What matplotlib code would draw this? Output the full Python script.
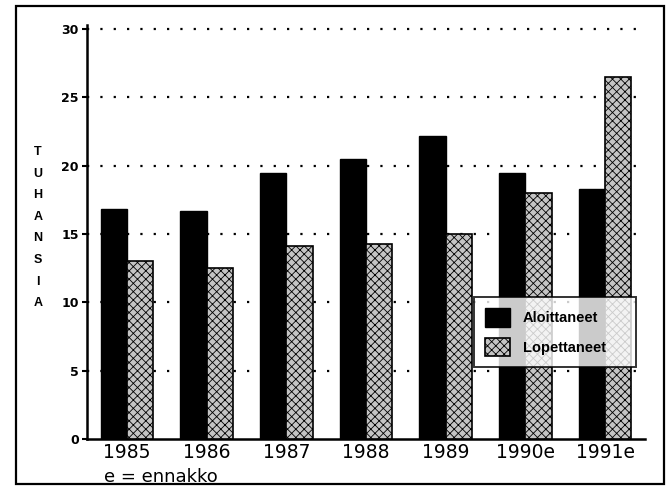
import matplotlib
matplotlib.use("Agg")
import matplotlib.pyplot as plt
from matplotlib.patches import Rectangle
import numpy as np

years = ["1985", "1986", "1987", "1988", "1989", "1990e", "1991e"]
aloittaneet = [16.8, 16.7, 19.5, 20.5, 22.2, 19.5, 18.3]
lopettaneet = [13.0, 12.5, 14.1, 14.3, 15.0, 18.0, 26.5]
yticks = [0, 5, 10, 15, 20, 25, 30]
series_names = ["Aloittaneet", "Lopettaneet"]
ylabel = "TUHANSIA"
note = "e = ennakko"

plt.rcParams['font.family'] = ['DejaVu Sans']
plt.rcParams['hatch.linewidth'] = 0.6

fig = plt.figure(figsize=(6.67, 4.87), dpi=100)
ax = fig.add_axes([0.1304, 0.0986, 0.8366, 0.850])

x = np.arange(len(years))
w = 0.33
ax.bar(x - w/2, aloittaneet, w, color='black', edgecolor='black', zorder=3,
       label=series_names[0])
ax.bar(x + w/2, lopettaneet, w, color='#c4c4c4', edgecolor='black', hatch='xxxx',
       linewidth=1.2, zorder=3, label=series_names[1])

ax.set_xlim(-0.5, 6.5)
ax.set_ylim(0, 30.3)
ax.set_yticks(yticks)
ax.set_yticklabels([str(t) for t in yticks], fontsize=9, fontweight='bold')
ax.set_xticks(x)
ax.set_xticklabels(years, fontsize=13.5)
ax.tick_params(axis='x', length=0, pad=3)
ax.tick_params(axis='y', length=3.8, width=1.5, pad=2, direction='out')

for t in yticks[1:]:
    ax.axhline(t, color='black', linestyle=(0, (1, 5)), linewidth=1.6, zorder=1)

for s in ['top', 'right']:
    ax.spines[s].set_visible(False)
ax.spines['left'].set_linewidth(1.8)
ax.spines['bottom'].set_linewidth(1.8)

# vertical stacked y label (one letter per line)
y0 = 1 - 152 / 487
step = 21.6 / 487
for i, ch in enumerate(ylabel):
    fig.text(0.057, y0 - i * step, ch, ha='center', va='center',
             fontsize=9, fontweight='bold', family='Liberation Sans')

fig.text(0.156, 1 - 482 / 487, note, ha='left', va='baseline', fontsize=13)

leg = ax.legend(loc='upper left', bbox_to_anchor=(0.694, 0.164, 0.290, 0.179),
                mode='expand', frameon=True, fancybox=False, shadow=False,
                handlelength=1.7, handleheight=1.6, borderpad=0.75,
                labelspacing=0.75, handletextpad=0.9, borderaxespad=0,
                prop={'family': 'Liberation Sans', 'weight': 'bold', 'size': 10.5})
leg.get_frame().set_edgecolor('black')
leg.get_frame().set_linewidth(1.4)
leg.set_zorder(5)

# figure border
fig.patches.append(Rectangle((0.024, 0.006), 0.972, 0.982, transform=fig.transFigure,
                             fill=False, edgecolor='black', linewidth=1.6))

fig.savefig("out.png", dpi=100)
